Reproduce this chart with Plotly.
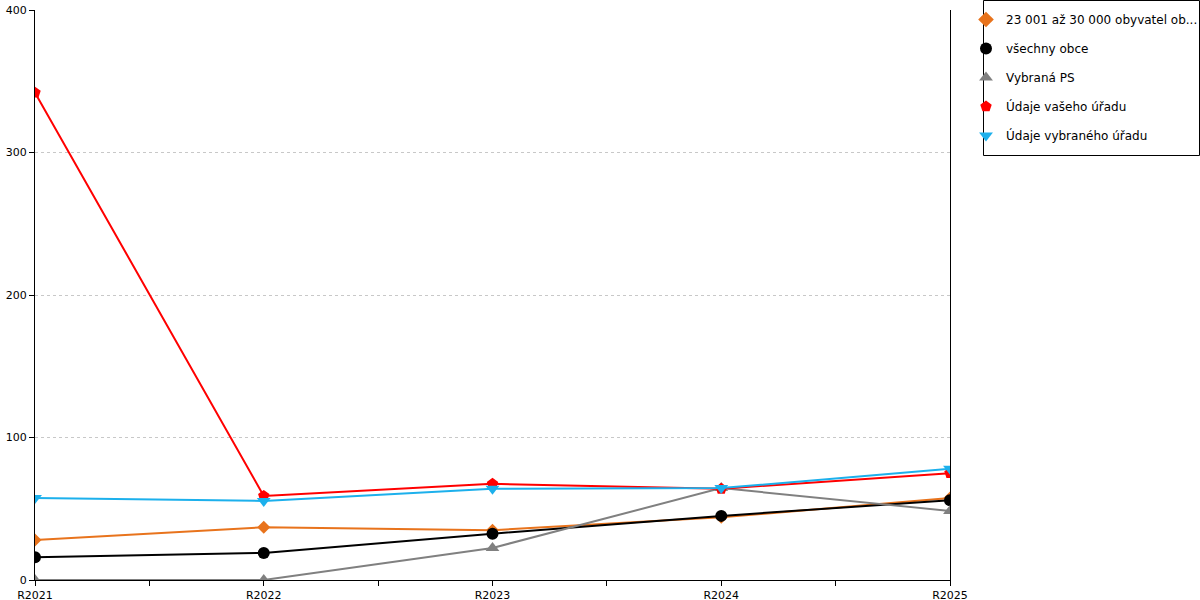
import plotly.graph_objects as go

years = ["R2021", "R2022", "R2023", "R2024", "R2025"]
s_orange = [28, 37, 35, 44, 57.5]
s_black = [16, 19, 32.5, 45, 56]
s_gray = [0, 0, 22.5, 64.5, 48.5]
s_red = [342, 59, 67.5, 64, 75]
s_blue = [57.5, 55.5, 64, 64.5, 78]

names = ["23 001 až 30 000 obyvatel ob...", "všechny obce", "Vybraná PS",
         "Údaje vašeho úřadu", "Údaje vybraného úřadu"]
series = [s_orange, s_black, s_gray, s_red, s_blue]
colors = ["#E8731C", "#000000", "#808080", "#FF0000", "#1CB0EC"]
symbols = ["diamond", "circle", "triangle-up", "pentagon", "triangle-down"]
sizes = [10, 12, 12, 12, 12]

L, R, T, B = 35, 250, 10, 20
W, H = 1200, 600
PW, PH = W - L - R, H - T - B

def px_x(p):
    return (p - L) / PW

def px_y(p):
    return (H - B - p) / PH

xi = list(range(len(years)))
fig = go.Figure()
for i, (n, s, c, sym, sz) in enumerate(zip(names, series, colors, symbols, sizes)):
    fig.add_trace(go.Scatter(
        x=xi, y=s, name=n, mode="lines+markers",
        line=dict(color=c, width=2),
        marker=dict(symbol=sym, color=c, size=sz),
        showlegend=False,
    ))
for i, (n, c, sym) in enumerate(zip(names, colors, symbols)):
    fig.add_trace(go.Scatter(
        x=[None], y=[None], name=n, mode="markers",
        marker=dict(symbol=sym, color=c, size=12),
        legendgroup=f"g{i}", hoverinfo="skip",
    ))

tickvals = []
ticktext = []
for i, y in enumerate(years):
    tickvals.append(i)
    ticktext.append(y)
    if i < len(years) - 1:
        tickvals.append(i + 0.5)
        ticktext.append("")

fig.add_shape(type="rect", xref="paper", yref="paper",
              x0=px_x(983.5), x1=px_x(1199.5), y0=px_y(155.5), y1=px_y(0.5),
              line=dict(color="#000", width=1), fillcolor="rgba(0,0,0,0)")

fig.update_layout(
    width=W, height=H,
    margin=dict(l=L, r=R, t=T, b=B, autoexpand=False),
    paper_bgcolor="white", plot_bgcolor="white",
    font=dict(family="DejaVu Sans", size=11, color="#000"),
    showlegend=True,
    legend=dict(
        x=px_x(966), y=px_y(5), xanchor="left", yanchor="top",
        borderwidth=0, bgcolor="rgba(0,0,0,0)",
        font=dict(family="DejaVu Sans", size=12, color="#000"),
        tracegroupgap=10, itemwidth=30,
        itemsizing="constant",
    ),
    xaxis=dict(
        range=[0, 4], tickvals=tickvals, ticktext=ticktext,
        ticks="outside", ticklen=5, tickcolor="#000",
        showline=True, linecolor="#000", linewidth=1,
        showgrid=False, zeroline=False, fixedrange=True,
        tickfont=dict(size=11), automargin=False,
    ),
    yaxis=dict(
        range=[0, 400], tickvals=[0, 100, 200, 300, 400],
        ticks="outside", ticklen=5, tickcolor="#000",
        showline=True, linecolor="#000", linewidth=1, mirror=True,
        showgrid=True, gridcolor="#c8c8c8", griddash="dot", gridwidth=1,
        zeroline=False, fixedrange=True,
        tickfont=dict(size=11), automargin=False,
    ),
)

fig.write_html("out.html", config={"displayModeBar": False},
               post_script="document.body.style.margin='0';document.body.style.overflow='hidden';")
